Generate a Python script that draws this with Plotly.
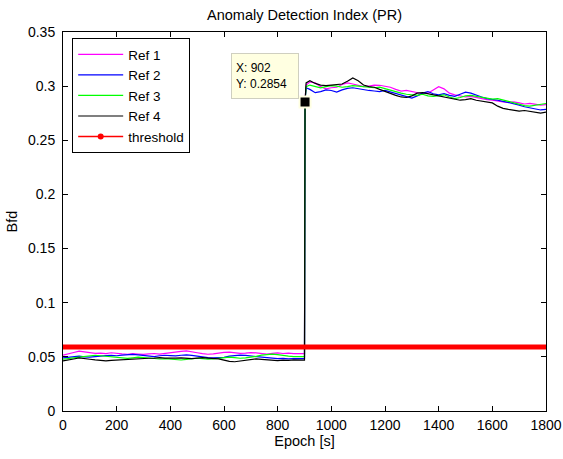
import plotly.graph_objects as go

# ---- data ----
epochs_pre = list(range(0, 901, 20))
epochs_post = [902, 906] + list(range(920, 1801, 20))

ref1_pre = [.0515, .0525, .0540, .0553, .0548, .0540, .0532, .0535, .0530, .0538,
            .0530, .0527, .0524, .0530, .0526, .0522, .0528, .0531, .0526, .0533,
            .0541, .0546, .0550, .0555, .0549, .0538, .0530, .0524, .0528, .0536,
            .0541, .0544, .0538, .0532, .0535, .0540, .0537, .0531, .0526, .0533,
            .0537, .0531, .0534, .0529, .0532, .0530]
ref2_pre = [.0490, .0496, .0502, .0506, .0500, .0497, .0503, .0509, .0512, .0514,
            .0510, .0516, .0520, .0522, .0518, .0512, .0508, .0503, .0510, .0515,
            .0512, .0509, .0515, .0518, .0513, .0505, .0498, .0493, .0490, .0492,
            .0496, .0506, .0512, .0516, .0513, .0508, .0500, .0495, .0489, .0485,
            .0483, .0486, .0482, .0485, .0481, .0484]
ref3_pre = [.0478, .0482, .0490, .0497, .0505, .0512, .0515, .0510, .0504, .0500,
            .0495, .0490, .0486, .0491, .0497, .0494, .0488, .0484, .0480, .0483,
            .0478, .0474, .0471, .0476, .0482, .0487, .0484, .0479, .0482, .0488,
            .0494, .0498, .0492, .0487, .0491, .0497, .0505, .0516, .0523, .0526,
            .0520, .0512, .0507, .0503, .0500, .0502]
ref4_pre = [.0462, .0468, .0480, .0490, .0487, .0478, .0472, .0466, .0463, .0467,
            .0470, .0474, .0479, .0484, .0488, .0490, .0487, .0489, .0492, .0488,
            .0485, .0489, .0491, .0487, .0484, .0488, .0492, .0489, .0485, .0482,
            .0470, .0458, .0455, .0462, .0470, .0476, .0481, .0477, .0472, .0468,
            .0466, .0470, .0467, .0472, .0468, .0470]

ref1_post = [.2860, .3010, .3038, .3030, .2995, .2975, .2985, .2990, .3015, .3030,
             .3020, .3005, .2995, .3000, .3010, .3008, .3000, .2990, .2970, .2955,
             .2960, .2950, .2940, .2930, .2935, .2965, .2995, .2975, .2935, .2920,
             .2910, .2900, .2905, .2895, .2880, .2875, .2870, .2860, .2855, .2850,
             .2855, .2845, .2835, .2840, .2830, .2825, .2830]
ref2_post = [.2860, .2985, .2970, .2940, .2950, .2965, .2960, .2945, .2965, .2980,
             .2985, .2975, .2965, .2960, .2955, .2950, .2960, .2945, .2930, .2915,
             .2900, .2890, .2910, .2935, .2950, .2930, .2920, .2930, .2915, .2905,
             .2925, .2945, .2935, .2915, .2900, .2885, .2880, .2870, .2860, .2850,
             .2840, .2825, .2810, .2800, .2790, .2780, .2785]
ref3_post = [.2850, .2995, .3010, .2995, .2985, .2995, .3005, .3000, .2990, .2995,
             .3005, .3000, .2995, .2990, .2985, .2990, .2975, .2960, .2945, .2935,
             .2925, .2920, .2915, .2925, .2910, .2905, .2915, .2920, .2900, .2885,
             .2895, .2910, .2915, .2905, .2895, .2890, .2880, .2885, .2875, .2860,
             .2845, .2830, .2820, .2815, .2825, .2835, .2840]
ref4_post = [.2854, .3030, .3050, .3025, .3010, .3005, .3010, .3015, .3020, .3045,
             .3075, .3050, .3010, .2995, .2990, .2970, .2950, .2930, .2915, .2900,
             .2895, .2910, .2935, .2940, .2930, .2920, .2910, .2905, .2895, .2880,
             .2870, .2875, .2885, .2870, .2860, .2855, .2845, .2815, .2795, .2785,
             .2775, .2770, .2775, .2765, .2755, .2750, .2760]

series_names = ["Ref 1", "Ref 2", "Ref 3", "Ref 4"]
series_colors = ["#ff00ff", "#0000ff", "#00ff00", "#000000"]
threshold_x = [0, 1800]
threshold_y = [0.059, 0.059]
datatip_x = 902
datatip_y = 0.2854
x_ticks = list(range(0, 1801, 200))
y_ticks = [0, 0.05, 0.1, 0.15, 0.2, 0.25, 0.3, 0.35]

FONT = "Liberation Sans, Arial, sans-serif"

fig = go.Figure()
epochs = epochs_pre + epochs_post
all_series = [ref1_pre + ref1_post, ref2_pre + ref2_post,
              ref3_pre + ref3_post, ref4_pre + ref4_post]
for name, col, ys in zip(series_names, series_colors, all_series):
    fig.add_trace(go.Scatter(x=epochs, y=ys, mode="lines", name=name,
                             line=dict(color=col, width=1.2)))

# threshold: thick band on plot, thin line + dot in legend
fig.add_trace(go.Scatter(x=threshold_x, y=threshold_y, mode="lines",
                         line=dict(color="#ff0000", width=5), showlegend=False,
                         hoverinfo="skip"))
fig.add_trace(go.Scatter(x=[None, None], y=[None, None], mode="lines+markers",
                         name="threshold",
                         line=dict(color="#ff0000", width=1.5),
                         marker=dict(color="#ff0000", size=6,
                                     line=dict(color="#ff0000", width=0))))

# data tip marker
fig.add_trace(go.Scatter(x=[datatip_x], y=[datatip_y], mode="markers", showlegend=False,
                         marker=dict(symbol="square", size=11, color="#000000",
                                     line=dict(color="#ffffe1", width=2))))

fig.add_annotation(x=626, y=0.3306, xref="x", yref="y", xanchor="left", yanchor="top",
                   text=f"X: {datatip_x}<br>Y: {datatip_y}", showarrow=False,
                   align="left", width=58, height=36,
                   bgcolor="#ffffe1", bordercolor="#cfcfc0", borderwidth=1,
                   borderpad=4, font=dict(family=FONT, size=12, color="#000000"))

axis_common = dict(showline=True, linecolor="#000000", linewidth=1, mirror="ticks",
                   ticks="inside", ticklen=5, tickcolor="#000000", showgrid=False,
                   zeroline=False, automargin=False,
                   tickfont=dict(family=FONT, size=14, color="#000000"))

fig.update_layout(
    width=563, height=459,
    margin=dict(l=63, r=17, t=32, b=48),
    paper_bgcolor="#ffffff", plot_bgcolor="#ffffff",
    title=dict(text="Anomaly Detection Index (PR)", x=0.541, xanchor="center",
               y=0.967, yanchor="middle",
               font=dict(family=FONT, size=14.5, color="#000000")),
    xaxis=dict(range=[0, 1800], tickvals=x_ticks, ticklabelstandoff=1,
               title=dict(text="Epoch [s]", font=dict(family=FONT, size=14.5, color="#000000"),
                          standoff=3),
               **axis_common),
    yaxis=dict(range=[0, 0.35], tickvals=y_ticks, ticklabelstandoff=4,
               title=dict(text="Bfd", font=dict(family=FONT, size=14.5, color="#000000"),
                          standoff=6),
               **axis_common),
    legend=dict(x=0.019, y=0.984, xanchor="left", yanchor="top",
                bgcolor="#ffffff", bordercolor="#000000", borderwidth=1,
                font=dict(family=FONT, size=13.5, color="#000000"),
                tracegroupgap=0, itemwidth=45),
    showlegend=True,
)

fig.write_html("out.html")
